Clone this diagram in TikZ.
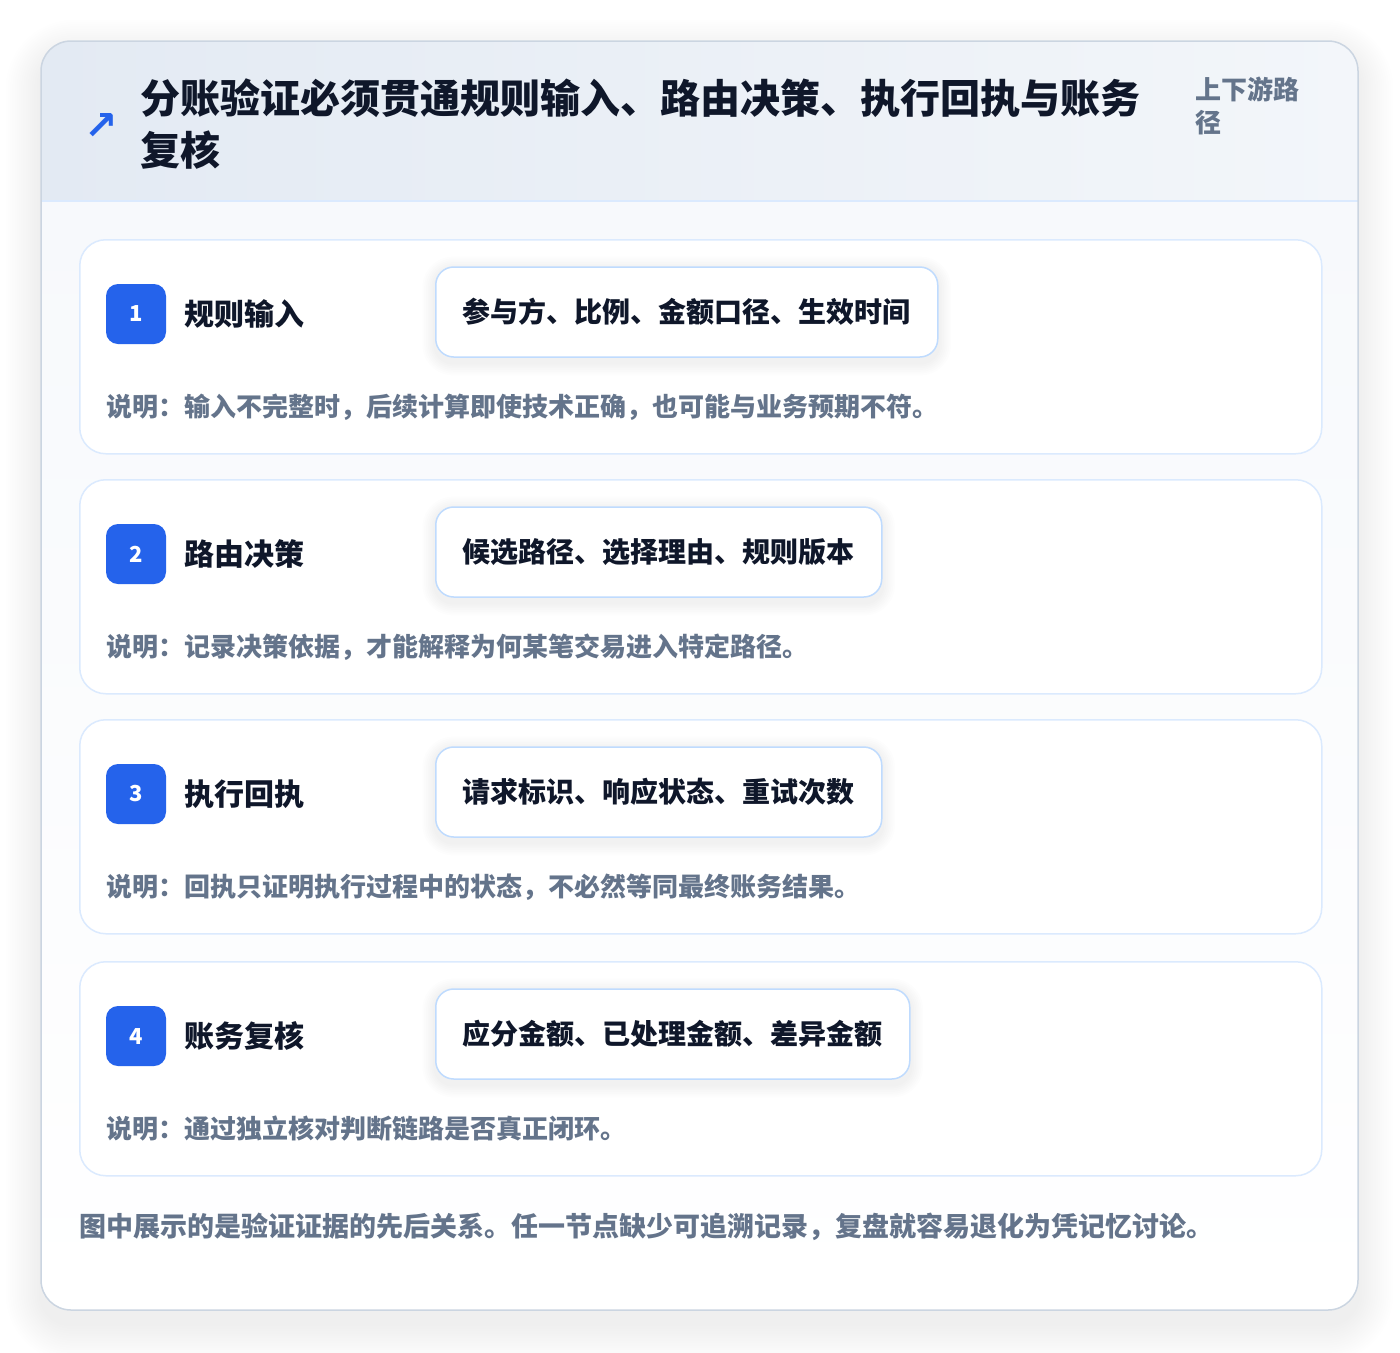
\documentclass[tikz,border=0pt]{standalone}
\usepackage{fontspec}
\setmainfont{Noto Sans CJK SC}
\newfontfamily\symfont{DejaVu Sans}
\definecolor{ink}{HTML}{0F172A}
\definecolor{muted}{HTML}{64748B}
\definecolor{accent}{HTML}{2563EB}
\definecolor{cardline}{HTML}{DBEAFE}
\definecolor{tagline}{HTML}{BFDBFE}
\definecolor{outline}{HTML}{CBD5E1}
\definecolor{headL}{HTML}{E3EAF3}
\definecolor{headR}{HTML}{F3F6FA}
\definecolor{bodytop}{HTML}{F7F9FC}
\pgfdeclarelayer{back}
\pgfdeclarelayer{mid}
\pgfsetlayers{back,mid,main}
\tikzset{
  stagecard/.style={draw=cardline, line width=1.5pt, fill=white, rounded corners=26pt,
    minimum width=1242pt, minimum height=214pt, anchor=north west, inner sep=0pt},
  badge/.style={fill=accent, rounded corners=12pt, minimum width=60pt, minimum height=60pt,
    inner sep=0pt, text=white, font=\fontsize{22}{26}\selectfont\bfseries},
  stagetitle/.style={anchor=west, inner sep=0pt, text=ink, font=\fontsize{30}{36}\selectfont\bfseries},
  tagbox/.style={anchor=west, draw=tagline, line width=1.5pt, fill=white, rounded corners=18pt,
    minimum height=90pt, inner xsep=27pt, inner ysep=0pt, text=ink,
    font=\fontsize{28}{34}\selectfont\bfseries},
  note/.style={anchor=west, inner sep=0pt, text=muted, font=\fontsize{26}{30}\selectfont\bfseries},
  softshade/.style={fill=black, fill opacity=#1},
}
\begin{document}
\begin{tikzpicture}[x=1pt,y=-1pt]
\useasboundingbox (0,0) rectangle (1400,1352);
% outer card shadow (layered)
\begin{pgfonlayer}{back}
\foreach \k in {1,...,16}{
  \path[softshade=0.0055, rounded corners={30pt+2.4pt*\k}]
    (41-2.2*\k,41+14-2.2*\k) rectangle (1358+2.2*\k,1310+14+2.4*\k);
}
\path[fill=white, rounded corners=30pt] (41,41) rectangle (1358,1310);
\begin{scope}
  \clip[rounded corners=30pt] (41,41) rectangle (1358,1310);
  \shade[top color=bodytop, bottom color=white] (41,201) rectangle (1358,1310);
  \shade[left color=headL, right color=headR] (41,41) rectangle (1358,201);
\end{scope}
\draw[cardline, line width=1.5pt] (41,201) -- (1358,201);
\draw[outline, line width=1.5pt, rounded corners=30pt] (41,41) rectangle (1358,1310);
\end{pgfonlayer}
% header
\node[text=accent, font=\symfont\fontsize{40}{40}\selectfont\bfseries, inner sep=0pt] (icon) at (101,126) {↗};
\node[anchor=west, align=left, inner sep=0pt, text=ink, font=\fontsize{40}{52}\selectfont\bfseries] (title) at (140,124)
  {分账验证必须贯通规则输入、路由决策、执行回执与账务\\复核};
\node[anchor=west, align=left, inner sep=0pt, text=muted, font=\fontsize{26}{33}\selectfont\bfseries] (scope) at (1195,106)
  {上下游路\\径};
% stages
\foreach \i/\top/\name/\tag/\desc in {
  1/239/规则输入/参与方、比例、金额口径、生效时间/说明：输入不完整时，后续计算即使技术正确，也可能与业务预期不符。,
  2/479/路由决策/候选路径、选择理由、规则版本/说明：记录决策依据，才能解释为何某笔交易进入特定路径。,
  3/719/执行回执/请求标识、响应状态、重试次数/说明：回执只证明执行过程中的状态，不必然等同最终账务结果。,
  4/961/账务复核/应分金额、已处理金额、差异金额/说明：通过独立核对判断链路是否真正闭环。}{
  \begin{pgfonlayer}{back}
    \node[stagecard] (card\i) at (79,\top) {};
  \end{pgfonlayer}
  \node[badge] (badge\i) at (136,\top+75) {\i};
  \node[stagetitle] (name\i) at (184,\top+75) {\name};
  \node[tagbox] (tag\i) at (435,\top+73) {\tag};
  \begin{pgfonlayer}{mid}
    \foreach \k in {1,...,7}{
      \path[softshade=0.009, rounded corners={18pt+1.8pt*\k}]
        ([xshift=-1.8*\k pt, yshift={1.8*\k pt-3pt}]tag\i.north west)
        rectangle ([xshift=1.8*\k pt, yshift={-1.8*\k pt-5pt}]tag\i.south east);
    }
  \end{pgfonlayer}
  \node[note] (desc\i) at (106,\top+168) {\desc};
}
\node[note, font=\fontsize{27}{30}\selectfont\bfseries] (footer) at (79,1227)
  {图中展示的是验证证据的先后关系。任一节点缺少可追溯记录，复盘就容易退化为凭记忆讨论。};
\end{tikzpicture}
\end{document}
